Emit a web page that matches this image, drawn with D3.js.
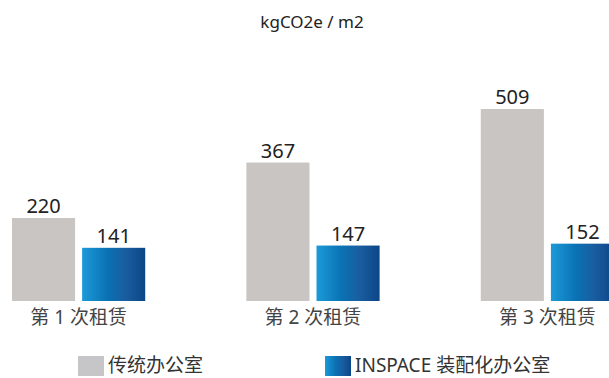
<!DOCTYPE html>
<html>
<head>
<meta charset="utf-8">
<script src="https://cdn.jsdelivr.net/npm/d3@7"></script>
<style>
  body { margin: 0; background: #fff; }
  text { font-family: "Noto Sans", "Noto Sans CJK SC", sans-serif; }
</style>
</head>
<body>
<div id="chart"></div>
<script>
// 数据
var categories = ["第 1 次租赁", "第 2 次租赁", "第 3 次租赁"];
var seriesNames = ["传统办公室", "INSPACE 装配化办公室"];
var traditional = [220, 367, 509];
var inspace = [141, 147, 152];
var unitTitle = "kgCO2e / m2";

var width = 609, height = 378;
var baseY = 301;

var svg = d3.select("#chart").append("svg")
  .attr("width", width)
  .attr("height", height);

// 蓝色渐变
var defs = svg.append("defs");
var grad = defs.append("linearGradient")
  .attr("id", "blueGrad")
  .attr("x1", "0%").attr("x2", "100%")
  .attr("y1", "0%").attr("y2", "0%");
grad.append("stop").attr("offset", "0%").attr("stop-color", "#1c9ad9");
grad.append("stop").attr("offset", "40%").attr("stop-color", "#0a72b4");
grad.append("stop").attr("offset", "70%").attr("stop-color", "#1a5c9e");
grad.append("stop").attr("offset", "100%").attr("stop-color", "#0b4688");

var x0 = d3.scaleBand()
  .domain(categories)
  .range([12, 614])
  .paddingInner(101 / 234)
  .paddingOuter(0);

var x1 = d3.scaleBand()
  .domain(seriesNames)
  .range([0, x0.bandwidth()])
  .paddingInner(0.1);

var y = d3.scaleLinear()
  .domain([0, 509])
  .range([baseY, 109]);

var fills = ["#c8c5c2", "url(#blueGrad)"];

var rows = categories.map(function(c, i){
  return { cat: c, vals: [traditional[i], inspace[i]] };
});

// 标题
svg.append("text")
  .attr("x", 312)
  .attr("y", 28)
  .attr("text-anchor", "middle")
  .style("font-size", "17px")
  .style("fill", "#222")
  .text(unitTitle);

var groups = svg.selectAll(".group")
  .data(rows)
  .enter()
  .append("g")
  .attr("class", "group")
  .attr("transform", function(d){ return "translate(" + x0(d.cat) + ",0)"; });

groups.selectAll("rect")
  .data(function(d){ return d.vals.map(function(v, j){ return { v: v, s: seriesNames[j], j: j }; }); })
  .enter()
  .append("rect")
  .attr("x", function(d){ return x1(d.s); })
  .attr("width", x1.bandwidth())
  .attr("y", function(d){ return y(d.v); })
  .attr("height", function(d){ return baseY - y(d.v); })
  .style("fill", function(d){ return fills[d.j]; });

groups.selectAll(".val")
  .data(function(d){ return d.vals.map(function(v, j){ return { v: v, s: seriesNames[j] }; }); })
  .enter()
  .append("text")
  .attr("class", "val")
  .attr("x", function(d){ return x1(d.s) + x1.bandwidth() / 2; })
  .attr("y", function(d){ return y(d.v) - 5; })
  .attr("text-anchor", "middle")
  .style("font-size", "20px")
  .style("fill", "#222")
  .text(function(d){ return d.v; });

// 横轴标签
groups.append("text")
  .attr("x", x0.bandwidth() / 2)
  .attr("y", 324)
  .attr("text-anchor", "middle")
  .style("font-size", "19px")
  .style("fill", "#444")
  .text(function(d){ return d.cat; });

// 图例
var legendX = [78, 325];
var legendFills = ["#c6c6c8", "url(#blueGrad)"];
var legend = svg.selectAll(".legend")
  .data(seriesNames)
  .enter()
  .append("g")
  .attr("class", "legend")
  .attr("transform", function(d, i){ return "translate(" + legendX[i] + ",356)"; });
legend.append("rect")
  .attr("width", 26)
  .attr("height", 20)
  .style("fill", function(d, i){ return legendFills[i]; });
legend.append("text")
  .attr("x", 30)
  .attr("y", 16)
  .style("font-size", "19px")
  .style("fill", "#333")
  .text(function(d){ return d; });
</script>
</body>
</html>
